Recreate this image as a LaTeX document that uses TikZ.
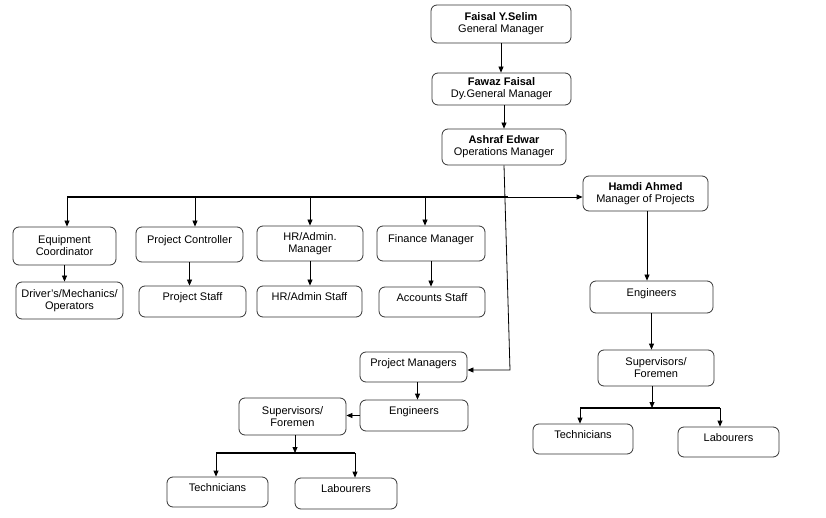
\documentclass[tikz,border=0pt]{standalone}
\usepackage{fontspec}
\setmainfont{Liberation Sans}
\usetikzlibrary{arrows.meta, positioning}

\begin{document}
\begin{tikzpicture}[
    x=1pt, y=-1pt,
    box/.style={draw=black!80, rounded corners=6pt, line width=0.8pt, align=center, inner sep=1pt,
        font=\fontsize{11}{12}\selectfont},
    onel/.style={text depth=9pt},
    link/.style={-{Triangle[length=6pt, width=5pt]}, line width=0.8pt},
    bus/.style={line width=1.8pt}
]
    \useasboundingbox (0,0) rectangle (826,518);

    % top of the chart
    \node[box, minimum width=140pt, minimum height=38pt] (gm) at (501,24) {\textbf{Faisal Y.Selim}\\General Manager};
    \node[box, minimum width=139pt, minimum height=32pt] (dgm) at (501.5,89) {\textbf{Fawaz Faisal}\\Dy.General Manager};
    \node[box, minimum width=124pt, minimum height=36pt] (om) at (504,147) {\textbf{Ashraf Edwar}\\Operations Manager};
    \node[box, minimum width=125pt, minimum height=35pt] (hamdi) at (645.5,193.5) {\textbf{Hamdi Ahmed}\\Manager of Projects};

    % departments
    \node[box, minimum width=103pt, minimum height=38pt] (ec) at (64.5,246) {Equipment\\Coordinator};
    \node[box, onel, minimum width=107pt, minimum height=35pt] (pc) at (189.5,244.5) {Project Controller};
    \node[box, minimum width=106pt, minimum height=35pt] (hr) at (310,243.5) {HR/Admin.\\Manager};
    \node[box, onel, minimum width=108pt, minimum height=35pt] (fm) at (431,243.5) {Finance Manager};

    \node[box, minimum width=107pt, minimum height=37pt] (dr) at (69.5,300.5) {Driver's/Mechanics/\\Operators};
    \node[box, onel, minimum width=107pt, minimum height=31pt] (ps) at (192.5,301.5) {Project Staff};
    \node[box, onel, minimum width=105pt, minimum height=31pt] (hrs) at (309.5,301.5) {HR/Admin Staff};
    \node[box, onel, minimum width=106pt, minimum height=30pt] (acc) at (432,302) {Accounts Staff};

    % projects branch
    \node[box, onel, minimum width=123pt, minimum height=32pt] (eng2) at (651.5,297) {Engineers};
    \node[box, minimum width=116pt, minimum height=36pt] (sup2) at (656,368) {Supervisors/\\Foremen};
    \node[box, onel, minimum width=100pt, minimum height=30pt] (tech2) at (583,439) {Technicians};
    \node[box, onel, minimum width=101pt, minimum height=30pt] (lab2) at (728.5,442) {Labourers};

    % site branch
    \node[box, onel, minimum width=107pt, minimum height=30pt] (pm) at (413.5,367) {Project Managers};
    \node[box, onel, minimum width=108pt, minimum height=31pt] (eng1) at (414,415.5) {Engineers};
    \node[box, minimum width=107pt, minimum height=37pt] (sup1) at (292.5,416.5) {Supervisors/\\Foremen};
    \node[box, onel, minimum width=101pt, minimum height=30pt] (tech1) at (217.5,492) {Technicians};
    \node[box, onel, minimum width=102pt, minimum height=31pt] (lab1) at (346,493.5) {Labourers};

    \coordinate (busl) at (67,197);
    \coordinate (busr) at (508,197);
    \coordinate (drop) at (510,370);
    \coordinate (bus2l) at (580,408);
    \coordinate (bus2r) at (720,408);
    \coordinate (bus1l) at (216,453);
    \coordinate (bus1r) at (355,453);

    \draw[link] (gm.south) -- (gm.south |- dgm.north);
    \draw[link] (dgm.south -| om.north) -- (om.north);
    \draw[link] (om.south) -- (drop) -- (pm.east |- drop);

    \draw[bus] (busl) -- (busr);
    \draw[link] (busr) -- (hamdi.west |- busr);
    \foreach \n/\x in {ec/67, pc/195, hr/310, fm/425} {
        \coordinate (d\n) at (\x,197);
        \draw[link] (d\n) -- (d\n |- \n.north);
    }

    \draw[link] (ec.south) -- (ec.south |- dr.north);
    \draw[link] (pc.south) -- (pc.south |- ps.north);
    \draw[link] (hr.south) -- (hr.south |- hrs.north);
    \draw[link] (fm.south) -- (fm.south |- acc.north);

    \draw[link] ([xshift=1.5pt]hamdi.south) -- ([xshift=1.5pt]hamdi.south |- eng2.north);
    \draw[link] (eng2.south) -- (eng2.south |- sup2.north);
    \draw[link] ([xshift=-4pt]sup2.south) -- ([xshift=-4pt]sup2.south |- bus2l);
    \draw[bus] (bus2l) -- (bus2r);
    \draw[link] (bus2l) -- (bus2l |- tech2.north);
    \draw[link] (bus2r) -- (bus2r |- lab2.north);

    \draw[link] ([xshift=4pt]pm.south) -- ([xshift=4pt]pm.south |- eng1.north);
    \draw[link] (eng1.west) -- (eng1.west -| sup1.east);
    \draw[link] ([xshift=2.5pt]sup1.south) -- ([xshift=2.5pt]sup1.south |- bus1l);
    \draw[bus] (bus1l) -- (bus1r);
    \draw[link] (bus1l) -- (bus1l |- tech1.north);
    \draw[link] (bus1r) -- (bus1r |- lab1.north);
\end{tikzpicture}
\end{document}
